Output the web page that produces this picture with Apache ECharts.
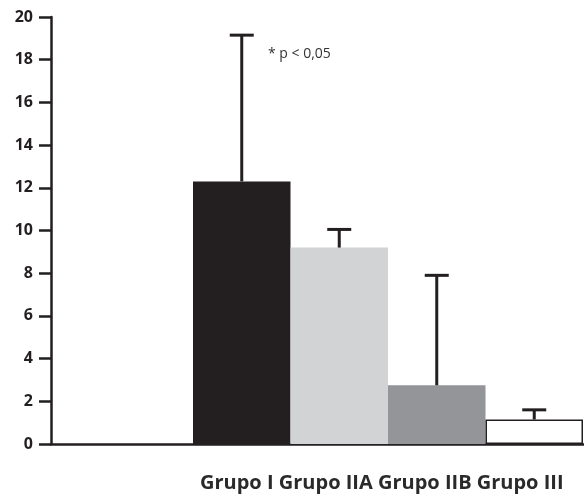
<!DOCTYPE html>
<html>
<head>
<meta charset="utf-8">
<script src="https://cdn.jsdelivr.net/npm/echarts@6/dist/echarts.min.js"></script>
<style>
  html, body { margin: 0; padding: 0; background: #fff; }
  #main { width: 584px; height: 501px; }
</style>
</head>
<body>
<div id="main"></div>
<script>
// datos
var grupos = ['Grupo I', 'Grupo IIA', 'Grupo IIB', 'Grupo III'];
var medias = [12.3, 9.2, 2.75, 1.15];
var errSup = [19.15, 10.05, 7.9, 1.6];
var colores = ['#231f20', '#d1d3d4', '#939598', '#ffffff'];
var ticksY = [0, 2, 4, 6, 8, 10, 12, 14, 16, 18, 20];

(function () {
    var myChart = echarts.init(document.getElementById('main'));
    var tinta = '#231f20';

    var option = {
        animation: false,
        grid: [
            { left: 51, right: 0, top: 17, bottom: 57 },
            { left: 193, right: 1, top: 17, bottom: 57 }
        ],
        xAxis: [
            {
                gridIndex: 0, type: 'value', min: 0, max: 1,
                axisLine: { show: true, lineStyle: { color: tinta, width: 2.5 } },
                axisTick: { show: false }, axisLabel: { show: false },
                splitLine: { show: false }
            },
            {
                gridIndex: 1, type: 'category', data: grupos, show: false
            }
        ],
        yAxis: [
            {
                gridIndex: 0, type: 'value',
                min: ticksY[0], max: ticksY[ticksY.length - 1], interval: 2,
                axisLine: { show: true, lineStyle: { color: tinta, width: 2.5 } },
                axisTick: { show: true, length: 12, lineStyle: { color: tinta, width: 2.5 } },
                splitLine: { show: false },
                axisLabel: {
                    margin: 18, color: tinta, fontSize: 16, fontWeight: 'bold',
                    fontFamily: 'Open Sans'
                }
            },
            {
                gridIndex: 1, type: 'value', min: 0, max: 20, show: false
            }
        ],
        series: [
            {
                type: 'bar',
                xAxisIndex: 1, yAxisIndex: 1,
                barWidth: '100%',
                z: 1,
                data: medias.map(function (v, i) {
                    return {
                        value: v,
                        itemStyle: {
                            color: colores[i],
                            borderColor: i === 3 ? tinta : colores[i],
                            borderWidth: i === 3 ? 1.5 : 0
                        }
                    };
                })
            },
            {
                // barras de error (solo hacia arriba)
                type: 'custom',
                xAxisIndex: 1, yAxisIndex: 1,
                z: 3,
                data: medias.map(function (v, i) { return [i, v, errSup[i]]; }),
                renderItem: function (params, api) {
                    var base = api.coord([api.value(0), api.value(1)]);
                    var tope = api.coord([api.value(0), api.value(2)]);
                    var half = 12;
                    var estilo = { stroke: tinta, lineWidth: 3 };
                    return {
                        type: 'group',
                        children: [
                            { type: 'line', shape: { x1: tope[0], y1: base[1], x2: tope[0], y2: tope[1] }, style: estilo },
                            { type: 'line', shape: { x1: tope[0] - half, y1: tope[1], x2: tope[0] + half, y2: tope[1] }, style: estilo }
                        ]
                    };
                }
            }
        ],
        graphic: [
            {
                type: 'text', left: 268, top: 47,
                style: { text: '* p < 0,05', fontSize: 14, fontFamily: 'Open Sans', fill: '#333' }
            },
            {
                type: 'text', left: 200, top: 473,
                style: {
                    text: grupos.join(' '), fontSize: 20, fontWeight: 'bold',
                    fontFamily: 'Open Sans', fill: '#2a2a2a'
                }
            }
        ]
    };
    myChart.setOption(option);
})();
</script>
</body>
</html>
